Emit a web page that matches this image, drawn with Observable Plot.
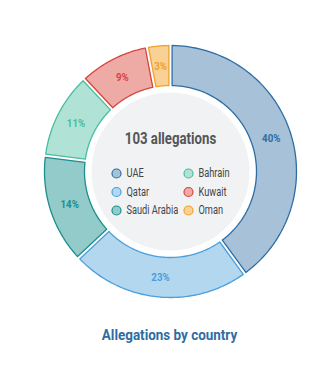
<!DOCTYPE html>
<html><head><meta charset="utf-8">
<script src="https://cdn.jsdelivr.net/npm/d3@7"></script>
<script src="https://cdn.jsdelivr.net/npm/@observablehq/plot@0.6"></script>
<style>
body{margin:0;background:#fff;width:325px;height:365px;overflow:hidden}
#title{font-family:Roboto,sans-serif;font-weight:bold;font-size:14px;color:#2e6da4;text-align:center;padding-left:14px;margin-top:5px;}
#title span{display:inline-block;transform:scaleX(0.96);}
</style></head>
<body><div id="chart"></div><div id="title"><span></span></div>
<script>
const countries = ["UAE", "Qatar", "Saudi Arabia", "Bahrain", "Kuwait", "Oman"];
const shares = [40, 23, 14, 11, 9, 3];
const fills = ["#a7c1d8", "#b3d7ef", "#93cbcb", "#b0e2d6", "#eeaaa5", "#f9d195"];
const strokes = ["#2e6da4", "#4a9fdc", "#1a8f8b", "#48bd9f", "#d8443c", "#f0a12a"];
const centerLabel = "103 allegations";
const titleText = "Allegations by country";

const R_OUT = 126, R_IN = 86, R_LAB = 106, GAP = 1.6, N = 80;
const total = d3.sum(shares);
let acc = 0;
const segs = countries.map((c, i) => {
  const a0 = acc / total * 2 * Math.PI;
  acc += shares[i];
  const a1 = acc / total * 2 * Math.PI;
  return {c, i, a0, a1, share: shares[i]};
});
const pts = [];
for (const s of segs) {
  const ring = [];
  const o0 = s.a0 + GAP / R_OUT, o1 = s.a1 - GAP / R_OUT;
  const i0 = s.a0 + GAP / R_IN, i1 = s.a1 - GAP / R_IN;
  for (let k = 0; k <= N; k++) { const a = o0 + (o1 - o0) * k / N; ring.push([R_OUT * Math.sin(a), -R_OUT * Math.cos(a)]); }
  for (let k = 0; k <= N; k++) { const a = i1 - (i1 - i0) * k / N; ring.push([R_IN * Math.sin(a), -R_IN * Math.cos(a)]); }
  ring.push(ring[0]);
  for (const [x, y] of ring) pts.push({c: s.c, x, y});
}
const labels = segs.map(s => {
  const a = (s.a0 + s.a1) / 2;
  return {c: s.c, x: R_LAB * Math.sin(a), y: -R_LAB * Math.cos(a), t: s.share + "%"};
});
const legend = countries.map((c, i) => ({c, x: i < 3 ? -54 : 18, y: 2 + (i % 3) * 18.5}));

const strokeOf = Object.fromEntries(countries.map((c, i) => [c, strokes[i]]));
const fillOf = Object.fromEntries(countries.map((c, i) => [c, fills[i]]));
const font = "Roboto, sans-serif";

const chart = Plot.plot({
  width: 325, height: 322,
  margin: 0,
  x: {domain: [-170, 155], range: [0, 325], axis: null},
  y: {domain: [-171, 151], range: [0, 322], axis: null},
  style: {background: "#fff"},
  marks: [
    Plot.dot([{x: 0, y: 0}], {x: "x", y: "y", r: 79, fill: "#f1f2f4", stroke: "none"}),
    Plot.line(pts, {x: "x", y: "y", z: "c", fill: d => fillOf[d.c], stroke: d => strokeOf[d.c], strokeWidth: 1.3, curve: "linear"}),
    Plot.text(labels, {x: "x", y: "y", text: "t", fill: d => strokeOf[d.c], fontSize: 11.5, fontWeight: "bold", fontFamily: font}),
    Plot.text([centerLabel], {x: () => 0, y: () => -33, text: d => d, fill: "#555", fontSize: 16.5, fontWeight: "bold", fontFamily: font}),
    Plot.dot(legend, {x: "x", y: "y", r: 4.5, fill: d => fillOf[d.c], stroke: d => strokeOf[d.c], strokeWidth: 1.2}),
    Plot.text(legend, {x: d => d.x + 10, y: "y", text: "c", textAnchor: "start", fill: "#444", fontSize: 12, fontFamily: font})
  ]
});
document.getElementById("chart").appendChild(chart);
document.querySelector("#title span").textContent = titleText;

// condense the text horizontally to match the narrow typeface of the original
const factors = [0.85, 0.8, 0.77];
chart.querySelectorAll('g[aria-label="text"]').forEach((g, gi) => {
  g.querySelectorAll("text").forEach(t => {
    const len = t.getComputedTextLength();
    t.setAttribute("textLength", (len * factors[gi]).toFixed(1));
    t.setAttribute("lengthAdjust", "spacingAndGlyphs");
  });
});
</script>
</body></html>
